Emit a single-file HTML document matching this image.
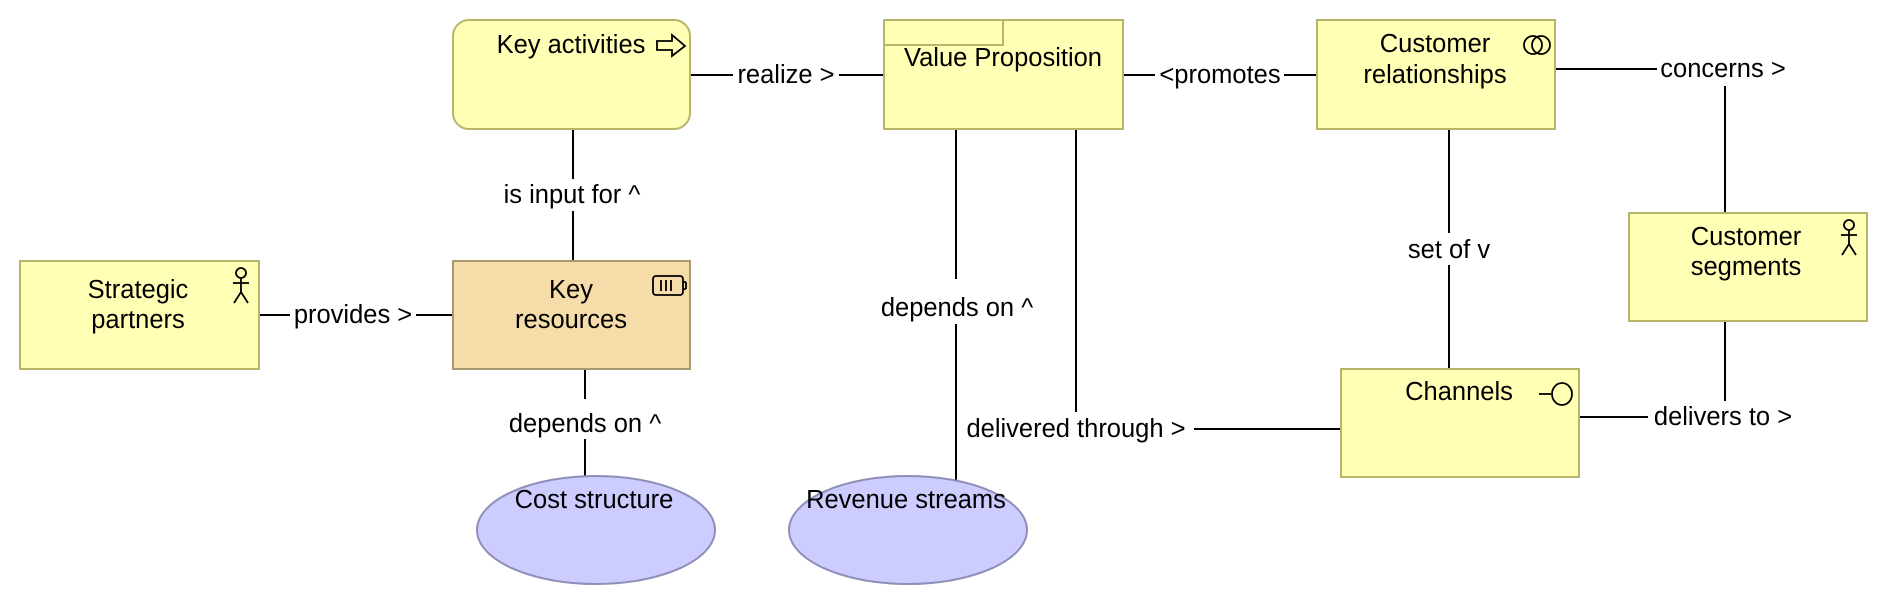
<!DOCTYPE html>
<html><head><meta charset="utf-8"><style>
html,body{margin:0;padding:0;background:#fff;}
svg{display:block;}
text{font-family:"Liberation Sans",sans-serif;font-size:25.5px;fill:#000;dominant-baseline:central;text-anchor:middle;}
</style></head><body>
<svg width="1888" height="606" viewBox="0 0 1888 606" xmlns="http://www.w3.org/2000/svg">
<g stroke="#000" stroke-width="2" fill="none">
<line x1="690" y1="75" x2="884" y2="75"/>
<line x1="573" y1="129" x2="573" y2="261"/>
<line x1="259" y1="315" x2="453" y2="315"/>
<line x1="585" y1="369" x2="585" y2="476"/>
<line x1="1123" y1="75" x2="1317" y2="75"/>
<polyline points="1555,69 1725,69 1725,213"/>
<line x1="1449" y1="129" x2="1449" y2="369"/>
<line x1="956" y1="129" x2="956" y2="484"/>
<line x1="1076" y1="129" x2="1076" y2="412"/>
<line x1="1194" y1="429" x2="1341" y2="429"/>
<polyline points="1579,417 1725,417 1725,321"/>
</g>
<g fill="#fff">
<rect x="733" y="60" width="106" height="30"/>
<rect x="490" y="179" width="166" height="32"/>
<rect x="290" y="300" width="126" height="30"/>
<rect x="500" y="399" width="170" height="40"/>
<rect x="1155" y="60" width="129" height="30"/>
<rect x="1657" y="54" width="135" height="32"/>
<rect x="1405" y="233" width="90" height="32"/>
<rect x="872" y="279" width="170" height="45"/>
<rect x="1648" y="401" width="152" height="30"/>
</g>
<rect x="453" y="20" width="237" height="109" rx="16" fill="#ffffb5" stroke="#b8b46c" stroke-width="2"/>
<rect x="884" y="20" width="239" height="109" fill="#ffffb5" stroke="#b8b46c" stroke-width="2"/>
<polyline points="884,45 1003,45 1003,20" fill="none" stroke="#b8b46c" stroke-width="2"/>
<rect x="1317" y="20" width="238" height="109" fill="#ffffb5" stroke="#b8b46c" stroke-width="2"/>
<rect x="20" y="261" width="239" height="108" fill="#ffffb5" stroke="#b8b46c" stroke-width="2"/>
<rect x="453" y="261" width="237" height="108" fill="#f5dca8" stroke="#a89a70" stroke-width="2"/>
<rect x="1629" y="213" width="238" height="108" fill="#ffffb5" stroke="#b8b46c" stroke-width="2"/>
<rect x="1341" y="369" width="238" height="108" fill="#ffffb5" stroke="#b8b46c" stroke-width="2"/>
<ellipse cx="596" cy="530" rx="119" ry="54" fill="#ccccff" stroke="#8e8eb8" stroke-width="2"/>
<ellipse cx="908" cy="530" rx="119" ry="54" fill="#ccccff" stroke="#8e8eb8" stroke-width="2"/>
<g stroke="#000" stroke-width="1.8" fill="none">
<polygon points="657,41 672,41 672,35 685,46 672,56 672,50 657,50"/>
<circle cx="1533" cy="45" r="9"/><circle cx="1541" cy="45" r="9"/>
<circle cx="241" cy="273" r="5"/><line x1="241" y1="278" x2="241" y2="292"/><line x1="233" y1="283" x2="249" y2="283"/><polyline points="234,303 241,292 248,303"/>
<circle cx="1849" cy="225" r="5"/><line x1="1849" y1="230" x2="1849" y2="244"/><line x1="1841" y1="235" x2="1857" y2="235"/><polyline points="1842,255 1849,244 1856,255"/>
<rect x="653" y="276" width="30" height="19" rx="3"/><line x1="683" y1="282" x2="686" y2="282"/><line x1="686" y1="282" x2="686" y2="289"/><line x1="683" y1="289" x2="686" y2="289"/>
<line x1="661" y1="280" x2="661" y2="291"/><line x1="666" y1="280" x2="666" y2="291"/><line x1="671" y1="280" x2="671" y2="291"/>
<line x1="1539" y1="394" x2="1551" y2="394"/><ellipse cx="1562" cy="394" rx="10" ry="11"/>
</g>
<text x="571" y="45">Key activities</text>
<text x="1003" y="58">Value Proposition</text>
<text x="1435" y="44">Customer</text><text x="1435" y="75">relationships</text>
<text x="138" y="290">Strategic</text><text x="138" y="320">partners</text>
<text x="571" y="290">Key</text><text x="571" y="320">resources</text>
<text x="1746" y="237">Customer</text><text x="1746" y="267">segments</text>
<text x="1459" y="392">Channels</text>
<text x="594" y="500">Cost structure</text>
<text x="906" y="500">Revenue streams</text>
<text x="786" y="75">realize &gt;</text>
<text x="572" y="195">is input for ^</text>
<text x="353" y="315">provides &gt;</text>
<text x="585" y="424">depends on ^</text>
<text x="1220" y="75">&lt;promotes</text>
<text x="1723" y="69">concerns &gt;</text>
<text x="1449" y="250">set of v</text>
<text x="957" y="308">depends on ^</text>
<text x="1076" y="429">delivered through &gt;</text>
<text x="1723" y="417">delivers to &gt;</text>
</svg>
</body></html>
